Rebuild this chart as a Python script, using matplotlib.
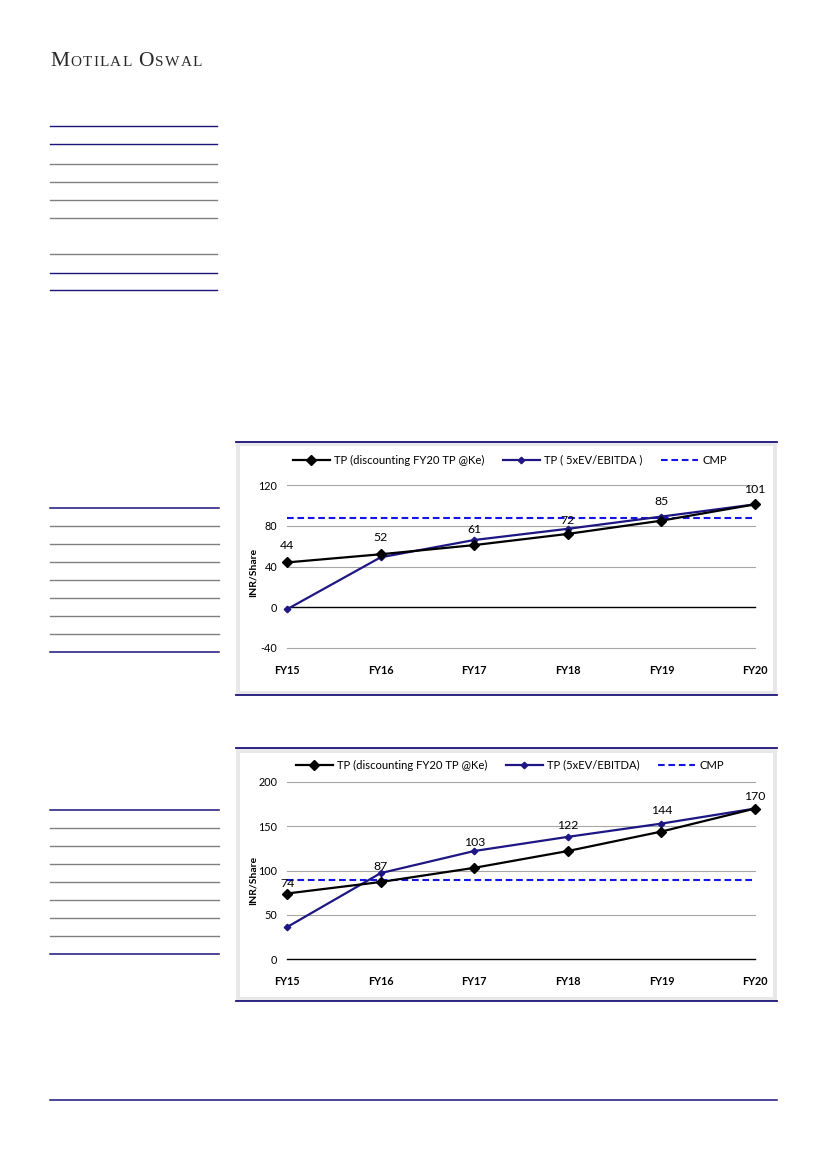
import matplotlib
matplotlib.use("Agg")
import matplotlib.pyplot as plt
from matplotlib.lines import Line2D
from matplotlib.patches import Rectangle

W, H = 826, 1169

# chart data
years = ["FY15", "FY16", "FY17", "FY18", "FY19", "FY20"]

tp_disc_1 = [44, 52, 61, 72, 85, 101]
tp_ev_1 = [-2, 49, 66, 77, 89, 101]
cmp_1 = 88
yticks_1 = [-40, 0, 40, 80, 120]

tp_disc_2 = [74, 87, 103, 122, 144, 170]
tp_ev_2 = [36, 97, 122, 138, 153, 170]
cmp_2 = 89
yticks_2 = [0, 50, 100, 150, 200]

NAVY = "#1c1478"
BLUE_LINE = "#1e1682"
CMP_BLUE = "#1414e6"
GRID = "#a6a6a6"
FONT = ["Lato", "DejaVu Sans"]


def fx(px):
    return px / W


def fy(py):
    return 1 - py / H


def hline(fig, x0, x1, y, color, lw=1.0):
    fig.add_artist(Line2D([fx(x0), fx(x1)], [fy(y), fy(y)], color=color,
                          lw=lw, transform=fig.transFigure))


def panel(fig, top, bottom):
    fig.add_artist(Rectangle((fx(236), fy(bottom)), (777 - 236) / W, (bottom - top) / H,
                             transform=fig.transFigure, facecolor="#e8e8e8",
                             edgecolor="none", zorder=-5))
    fig.add_artist(Rectangle((fx(240), fy(bottom - 4.5)), (773 - 240) / W, (bottom - top - 9) / H,
                             transform=fig.transFigure, facecolor="white",
                             edgecolor="none", zorder=-4))
    hline(fig, 236, 777, top, NAVY, 1.3)
    hline(fig, 236, 777, bottom, NAVY, 1.3)


def draw_chart(fig, y_top, y_bot, ylim, yticks, disc, ev, cmp_val, ev_label,
               label_offsets, legend_y, ylabel_y):
    ax = fig.add_axes([fx(287), fy(y_bot), (755 - 287) / W, (y_bot - y_top) / H])
    ax.patch.set_visible(False)
    x = list(range(len(years)))
    for t in yticks:
        ax.axhline(t, color="black" if t == 0 else GRID, lw=1.0 if t == 0 else 0.8,
                   clip_on=False, zorder=1)
    l1, = ax.plot(x, disc, color="black", lw=1.6, marker="D", markersize=5,
                  label="TP (discounting FY20 TP @Ke)", clip_on=False, zorder=4)
    l2, = ax.plot(x, ev, color=BLUE_LINE, lw=1.6, marker="D", markersize=3.3,
                  label=ev_label, clip_on=False, zorder=3)
    l3 = ax.axhline(cmp_val, color=CMP_BLUE, lw=1.5, ls=(0, (3.2, 1.8)),
                    label="CMP", zorder=2)
    for xi, v, off in zip(x, disc, label_offsets):
        ax.annotate(str(v), (xi, v), xytext=(0, off * 0.72), textcoords="offset points",
                    ha="center", va="center", fontsize=8.8, family=FONT)
    ax.set_xlim(0, len(years) - 1)
    ax.set_ylim(*ylim)
    ax.set_yticks(yticks)
    ax.set_yticklabels([str(t) for t in yticks], family=FONT, fontsize=7.8)
    ax.set_xticks(x)
    ax.set_xticklabels(years, family=FONT, fontsize=7.8, fontweight="bold")
    ax.tick_params(axis="y", length=0, pad=7)
    ax.tick_params(axis="x", length=0, pad=12)
    for s in ax.spines.values():
        s.set_visible(False)
    fig.text(fx(253), fy(ylabel_y), "INR/Share", rotation=90, ha="center", va="center",
             fontsize=7.5, fontweight="bold", family=FONT)
    fig.legend(handles=[l1, l2, l3], loc="center", bbox_to_anchor=(fx(510), fy(legend_y)),
               ncol=3, frameon=False, handlelength=3.3,
               handletextpad=0.4, columnspacing=1.6, prop={"family": FONT, "size": 8.1})
    return ax


fig = plt.figure(figsize=(W / 100, H / 100), dpi=100)

# logo in small caps
logo = [("M", 15.5), ("O", 11), ("T", 11), ("I", 11), ("L", 11), ("A", 11),
        ("L", 11), (" ", 11), ("O", 15.5), ("S", 11), ("W", 11), ("A", 11), ("L", 11)]
renderer = fig.canvas.get_renderer()
texts = []
widths = []
for ch, size in logo:
    t = fig.text(0, fy(65.7), ch if ch != " " else "\u00a0", fontsize=size, va="baseline",
                 ha="left", family=["Liberation Serif", "DejaVu Serif"], color="#2a2a2a")
    texts.append(t)
    widths.append(t.get_window_extent(renderer).width)
track = (152 - sum(widths)) / (len(logo) - 1)
xpos = 50
for t, w in zip(texts, widths):
    t.set_x(fx(xpos))
    xpos += w + track

# left-side rules
top_rules = [(126.3, NAVY), (144.3, NAVY), (164.3, "gray"), (182.3, "gray"),
             (200.3, "gray"), (218.3, "gray"), (254.3, "gray"), (273.3, NAVY), (290.3, NAVY)]
for y, c in top_rules:
    hline(fig, 50, 216.7, y, c, 1.0)
for start in (508.3, 810.3):
    hline(fig, 50, 219, start, NAVY, 1.1)
    for k in range(1, 8):
        hline(fig, 50, 219, start + 18 * k - (0.6 if start < 600 else 0), "gray", 1.0)
    hline(fig, 50, 219, start + 144, NAVY, 1.1)

# footer rule
hline(fig, 50, 777, 1100, NAVY, 1.1)

panel(fig, 441.5, 695)
draw_chart(fig, 485, 648, (-40, 120), yticks_1, tp_disc_1, tp_ev_1, cmp_1,
           "TP ( 5xEV/EBITDA )", [17, 17, 16, 13, 19, 15], 460, 572)

panel(fig, 748, 1001)
draw_chart(fig, 782, 959, (0, 200), yticks_2, tp_disc_2, tp_ev_2, cmp_2,
           "TP (5xEV/EBITDA)", [10, 16, 25, 26, 21, 12], 765, 880)

fig.savefig("out.png", dpi=100)
